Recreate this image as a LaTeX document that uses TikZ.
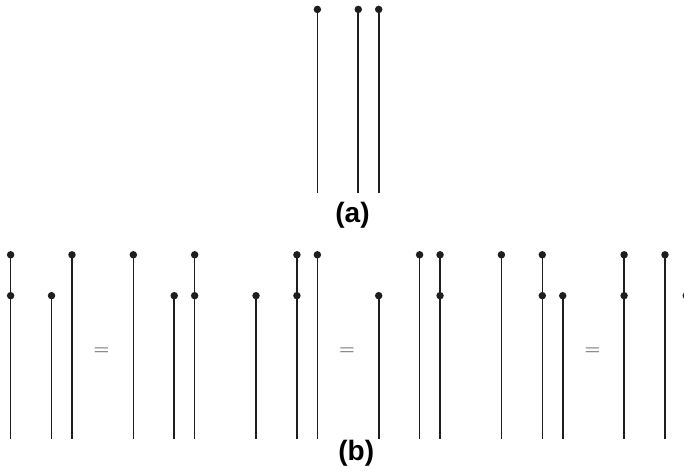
\documentclass[tikz,border=0pt]{standalone}
\usepackage{fontspec}
\usepackage{amsmath}
\usetikzlibrary{calc}
\newfontfamily\legendefont{Liberation Sans}
\definecolor{brinGris}{RGB}{30,30,30}
\definecolor{egalGris}{RGB}{70,70,70}
\tikzset{
  brin/.style={brinGris,line width=1.1pt},
  pointe/.style={circle,fill=brinGris,inner sep=0pt,minimum size=5.2pt},
  egal/.style={egalGris,font=\fontsize{15.5}{17}\selectfont},
  legende/.style={font=\legendefont\bfseries\fontsize{19.5}{21}\selectfont}
}
\begin{document}
\begin{tikzpicture}[x=0.5cm,y=0.5cm]
  \useasboundingbox (-0.52,-1.62) rectangle (32.93,21.46);
  % (a) trois brins
  \coordinate (aP) at (15,12);
  \coordinate (aQ) at (17,12);
  \coordinate (aR) at (18,12);
  \node[pointe] (aP9) at (15,21) {};
  \node[pointe] (aQ9) at (17,21) {};
  \node[pointe] (aR9) at (18,21) {};
  \draw[brin] (aP) -- (aP9.center);
  \draw[brin] (aQ) -- (aQ9.center);
  \draw[brin] (aR) -- (aR9.center);
  \node[legende] (legA) at (16.72,10.95) {(a)};
  % (b) groupe 1
  \coordinate (uP) at (0,0);
  \coordinate (uQ) at (2,0);
  \coordinate (uR) at (3,0);
  \node[pointe] (uP9) at (0,9) {};
  \node[pointe] (uP7) at (0,7) {};
  \node[pointe] (uQ7) at (2,7) {};
  \node[pointe] (uR9) at (3,9) {};
  \draw[brin] (uP) -- (uP9.center);
  \draw[brin] (uQ) -- (uQ7.center);
  \draw[brin] (uR) -- (uR9.center);
  \node[egal] (eq1) at (4.45,4.25) {$=$};
  % groupe 2
  \coordinate (vP) at (6,0);
  \coordinate (vQ) at (8,0);
  \coordinate (vR) at (9,0);
  \node[pointe] (vP9) at (6,9) {};
  \node[pointe] (vQ7) at (8,7) {};
  \node[pointe] (vR9) at (9,9) {};
  \node[pointe] (vR7) at (9,7) {};
  \draw[brin] (vP) -- (vP9.center);
  \draw[brin] (vQ) -- (vQ7.center);
  \draw[brin] (vR) -- (vR9.center);
  % groupe 3
  \coordinate (wP) at (12,0);
  \coordinate (wQ) at (14,0);
  \coordinate (wR) at (15,0);
  \node[pointe] (wP7) at (12,7) {};
  \node[pointe] (wQ9) at (14,9) {};
  \node[pointe] (wQ7) at (14,7) {};
  \node[pointe] (wR9) at (15,9) {};
  \draw[brin] (wP) -- (wP7.center);
  \draw[brin] (wQ) -- (wQ9.center);
  \draw[brin] (wR) -- (wR9.center);
  \node[egal] (eq2) at (16.45,4.25) {$=$};
  % groupe 4
  \coordinate (xP) at (18,0);
  \coordinate (xQ) at (20,0);
  \coordinate (xR) at (21,0);
  \node[pointe] (xP7) at (18,7) {};
  \node[pointe] (xQ9) at (20,9) {};
  \node[pointe] (xR9) at (21,9) {};
  \node[pointe] (xR7) at (21,7) {};
  \draw[brin] (xP) -- (xP7.center);
  \draw[brin] (xQ) -- (xQ9.center);
  \draw[brin] (xR) -- (xR9.center);
  % groupe 5
  \coordinate (yP) at (24,0);
  \coordinate (yQ) at (26,0);
  \coordinate (yR) at (27,0);
  \node[pointe] (yP9) at (24,9) {};
  \node[pointe] (yQ9) at (26,9) {};
  \node[pointe] (yQ7) at (26,7) {};
  \node[pointe] (yR7) at (27,7) {};
  \draw[brin] (yP) -- (yP9.center);
  \draw[brin] (yQ) -- (yQ9.center);
  \draw[brin] (yR) -- (yR7.center);
  \node[egal] (eq3) at (28.45,4.25) {$=$};
  % groupe 6
  \coordinate (zP) at (30,0);
  \coordinate (zQ) at (32,0);
  \coordinate (zR) at (33.04,0);
  \node[pointe] (zP9) at (30,9) {};
  \node[pointe] (zP7) at (30,7) {};
  \node[pointe] (zQ9) at (32,9) {};
  \node[pointe] (zR7) at (33.04,7) {};
  \draw[brin] (zP) -- (zP9.center);
  \draw[brin] (zQ) -- (zQ9.center);
  \draw[brin] (zR) -- (zR7.center);
  \node[legende] (legB) at (16.9,-0.72) {(b)};
\end{tikzpicture}
\end{document}
